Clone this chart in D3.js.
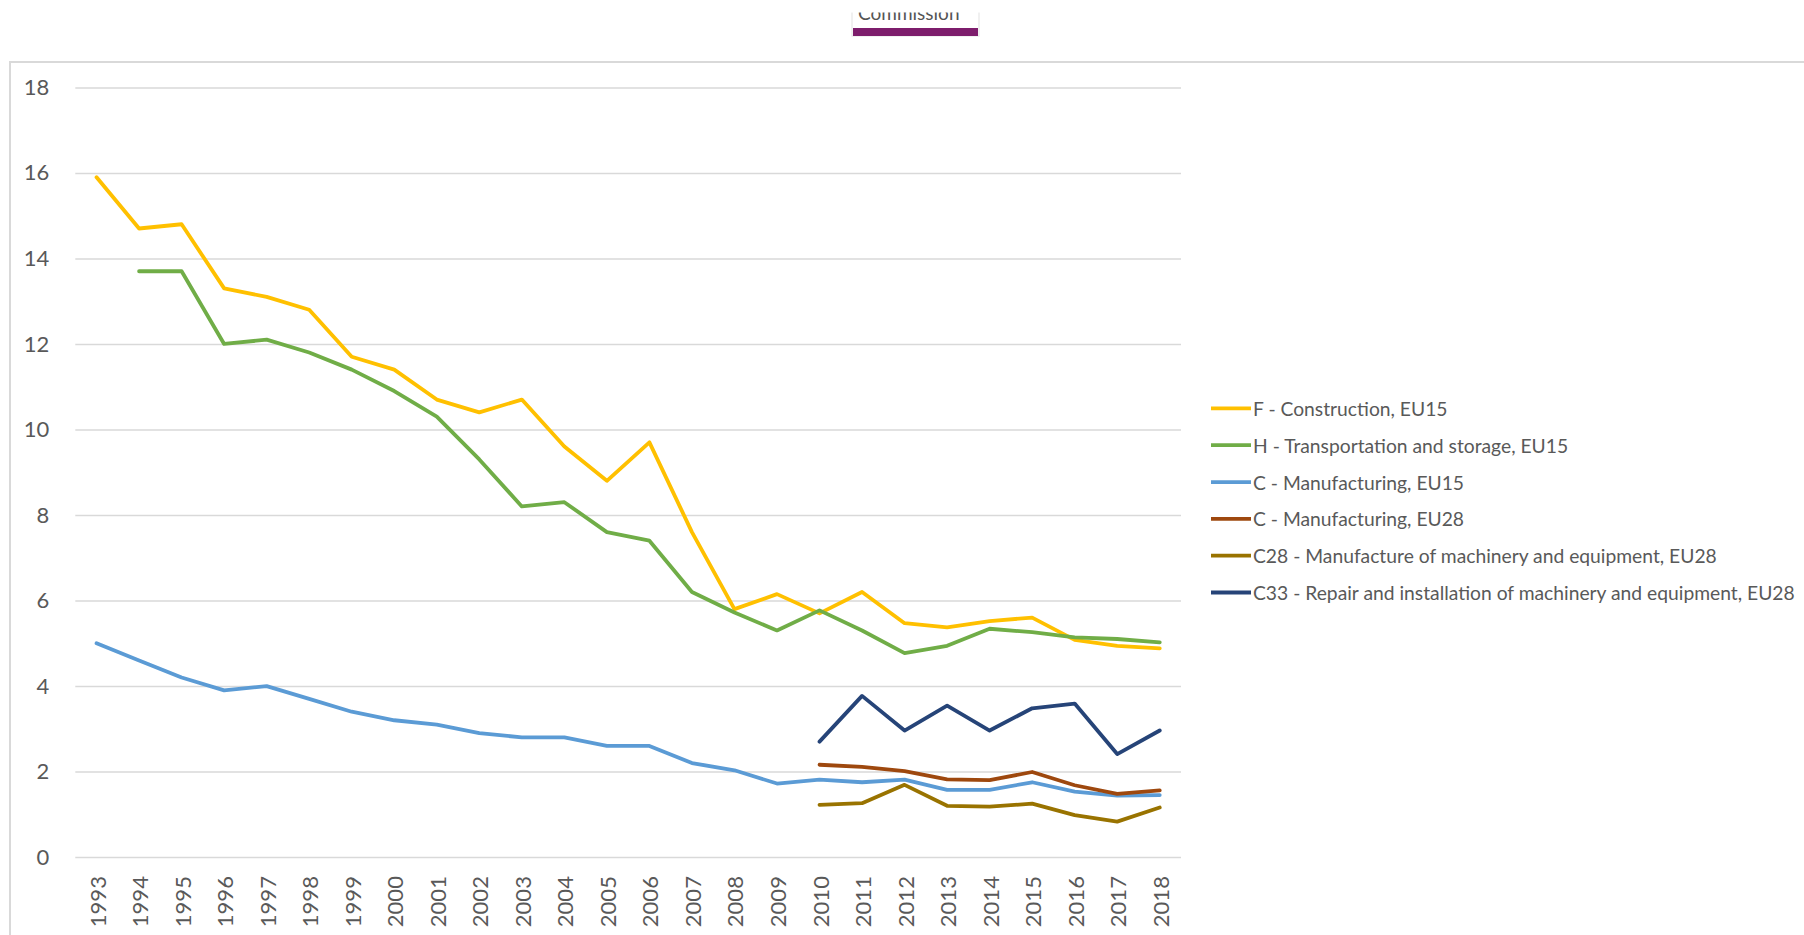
<!DOCTYPE html>
<html>
<head>
<meta charset="utf-8">
<script src="https://cdn.jsdelivr.net/npm/d3@7"></script>
<style>
  html, body { margin: 0; padding: 0; background: #fff; }
  svg { display: block; font-family: Lato, "Open Sans", sans-serif; }
</style>
</head>
<body>
<svg id="chart" width="1804" height="935"></svg>
<script>
// ---- data ----
const years = ["1993","1994","1995","1996","1997","1998","1999","2000","2001","2002","2003","2004","2005","2006","2007","2008","2009","2010","2011","2012","2013","2014","2015","2016","2017","2018"];
const yTicks = [0, 2, 4, 6, 8, 10, 12, 14, 16, 18];
const seriesNames = [
  "F - Construction, EU15",
  "H - Transportation and storage, EU15",
  "C - Manufacturing, EU15",
  "C - Manufacturing, EU28",
  "C28 - Manufacture of machinery and equipment, EU28",
  "C33 - Repair and installation of machinery and equipment, EU28"
];
const construction = [15.9,14.7,14.8,13.3,13.1,12.8,11.7,11.4,10.7,10.4,10.7,9.6,8.8,9.7,7.6,5.8,6.15,5.7,6.2,5.47,5.37,5.52,5.6,5.08,4.94,4.88];
const transport    = [null,13.7,13.7,12.0,12.1,11.8,11.4,10.9,10.3,9.3,8.2,8.3,7.6,7.4,6.2,5.72,5.3,5.77,5.3,4.77,4.94,5.34,5.26,5.14,5.1,5.02];
const manufEU15    = [5.0,4.6,4.2,3.9,4.0,3.7,3.4,3.2,3.1,2.9,2.8,2.8,2.6,2.6,2.2,2.03,1.72,1.81,1.75,1.81,1.57,1.57,1.75,1.53,1.44,1.45];
const manufEU28    = [null,null,null,null,null,null,null,null,null,null,null,null,null,null,null,null,null,2.16,2.11,2.01,1.82,1.8,1.99,1.68,1.48,1.56];
const machineryC28 = [null,null,null,null,null,null,null,null,null,null,null,null,null,null,null,null,null,1.22,1.26,1.69,1.2,1.18,1.25,0.98,0.83,1.16];
const repairC33    = [null,null,null,null,null,null,null,null,null,null,null,null,null,null,null,null,null,2.7,3.77,2.96,3.54,2.96,3.48,3.59,2.41,2.96];
const seriesValues = [construction, transport, manufEU15, manufEU28, machineryC28, repairC33];
const colors = ["#FFC000", "#70AD47", "#5B9BD5", "#9E480E", "#997300", "#264478"];

// ---- drawing ----
const svg = d3.select("#chart");
const textColor = "#595959";

// header box ("Commission") clipped at top
svg.append("defs").append("clipPath").attr("id", "hdrclip")
  .append("rect").attr("x", 840).attr("y", 12.5).attr("width", 160).attr("height", 30);
const hdr = svg.append("g").attr("clip-path", "url(#hdrclip)");
hdr.append("rect").attr("x", 852).attr("y", 4).attr("width", 127).attr("height", 32)
  .attr("fill", "#fff").attr("stroke", "#e6e6e6").attr("stroke-width", 1.2);
hdr.append("text").attr("x", 858).attr("y", 19.5).attr("font-size", 19).attr("fill", "#555")
  .text("Commission");
svg.append("rect").attr("x", 853).attr("y", 28).attr("width", 125).attr("height", 8).attr("fill", "#7d1d6c");

// chart frame (runs off right and bottom)
svg.append("rect").attr("x", 10).attr("y", 62).attr("width", 1810).attr("height", 900)
  .attr("fill", "none").attr("stroke", "#d9d9d9").attr("stroke-width", 2);

const x = d3.scalePoint().domain(years).range([75.3, 1181]).padding(0.5);
const y = d3.scaleLinear().domain([0, 18]).range([857.1, 87.4]);

// gridlines
const yAxis = d3.axisLeft(y).tickValues(yTicks).tickSize(-(1181 - 75.3)).tickPadding(26);
const gy = svg.append("g").attr("transform", "translate(75.3,0)").call(yAxis);
gy.select(".domain").remove();
gy.selectAll(".tick line").attr("stroke", "#d9d9d9").attr("stroke-width", 1.5);
gy.selectAll(".tick text").attr("fill", textColor).attr("font-size", 22)
  .attr("font-family", "Lato, sans-serif");

// x axis labels
const xAxis = d3.axisBottom(x).tickSize(0).tickPadding(0);
const gx = svg.append("g").attr("transform", "translate(0,857.1)").call(xAxis);
gx.select(".domain").remove();
gx.selectAll(".tick text")
  .attr("fill", textColor).attr("font-size", 22).attr("font-family", "Lato, sans-serif")
  .attr("text-anchor", "end").attr("dy", null)
  .attr("transform", "translate(0,19) rotate(-90)")
  .attr("x", 0).attr("y", 0).attr("dominant-baseline", "central");

// lines
const line = d3.line()
  .defined(d => d.v !== null)
  .x(d => x(d.year))
  .y(d => y(d.v));
seriesValues.forEach((vals, i) => {
  const pts = years.map((yr, j) => ({ year: yr, v: vals[j] }));
  svg.append("path").datum(pts)
    .attr("fill", "none").attr("stroke", colors[i]).attr("stroke-width", 3.8)
    .attr("stroke-linejoin", "round").attr("stroke-linecap", "round")
    .attr("d", line);
});

// legend
const legendRowY = d3.scaleLinear().domain([0, 5]).range([408.4, 592.5]);
const lg = svg.append("g");
seriesNames.forEach((name, i) => {
  const yy = legendRowY(i);
  lg.append("line").attr("x1", 1211).attr("x2", 1251).attr("y1", yy).attr("y2", yy)
    .attr("stroke", colors[i]).attr("stroke-width", 3.8);
  lg.append("text").attr("class", "legtext").attr("x", 1253).attr("y", yy)
    .attr("dominant-baseline", "central").attr("fill", textColor)
    .attr("font-size", 20).text(name);
});
// fit legend font so the longest label spans ~542px as in reference
const longest = d3.max(lg.selectAll(".legtext").nodes(), n => n.getComputedTextLength());
if (longest > 0) {
  const fs = 20 * 542 / longest;
  lg.selectAll(".legtext").attr("font-size", fs);
}
</script>
</body>
</html>
